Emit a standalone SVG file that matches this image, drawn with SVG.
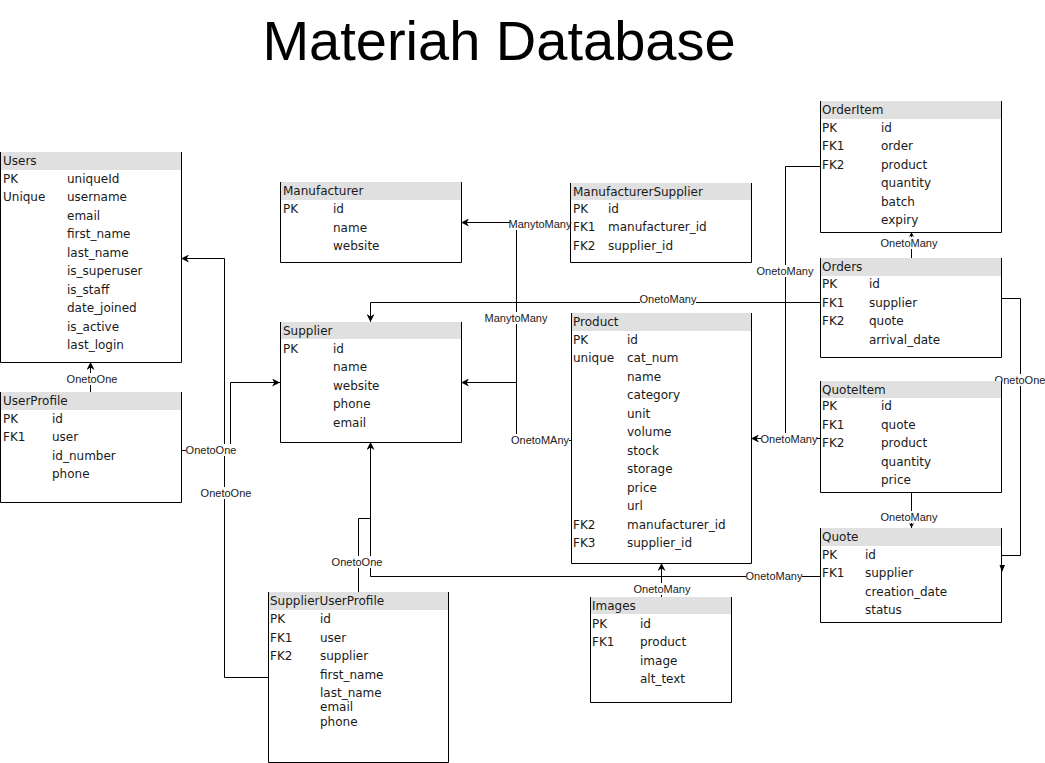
<svg xmlns="http://www.w3.org/2000/svg" width="1045" height="763" viewBox="0 0 1045 763">
<style>
.hd{fill:#e0e0e0;stroke:none}
.bx{fill:none;stroke:#000;stroke-width:1}
.t{font-family:"DejaVu Sans",Verdana,sans-serif;font-size:12px;fill:#1a1a1a}
.c{fill:none;stroke:#000;stroke-width:1}
.lb{font-family:"Liberation Sans",Arial,sans-serif;font-size:11px;fill:#1a1a1a;text-anchor:middle}
.lbg{fill:#fff;stroke:none}
.title{font-family:"Liberation Sans",Arial,sans-serif;font-size:56px;fill:#000;text-anchor:middle}
</style>
<defs>
<marker id="ar" viewBox="0 0 10 10" refX="10" refY="5" markerWidth="8" markerHeight="8" markerUnits="userSpaceOnUse" orient="auto">
<path d="M0,0 L10,5 L0,10 L3,5 z" fill="#000"/>
</marker>
<marker id="sm" viewBox="0 0 10 10" refX="10" refY="5" markerWidth="5" markerHeight="5" markerUnits="userSpaceOnUse" orient="auto">
<path d="M0,0 L10,5 L0,10 L3,5 z" fill="#000"/>
</marker>
</defs>
<rect width="1045" height="763" fill="#fff"/>
<text class="title" x="499" y="60">Materiah Database</text>

<g id="connectors">
<path class="c" d="M90.5,393 V362" marker-end="url(#ar)"/>
<path class="c" d="M181,450.5 H230.5 V382.5 H280" marker-end="url(#ar)"/>
<path class="c" d="M268,677.5 H224.5 V258.5 H181" marker-end="url(#ar)"/>
<path class="c" d="M358.5,592 V518.5 H370.5 V442" marker-end="url(#ar)"/>
<path class="c" d="M820,576.5 H370.5 V518"/>
<path class="c" d="M661.5,597 V563" marker-end="url(#ar)"/>
<path class="c" d="M820,302.5 H370.5 V322" marker-end="url(#ar)"/>
<path class="c" d="M570,222.5 H461" marker-end="url(#ar)"/>
<path class="c" d="M516.5,222.5 V440.5 H571"/>
<path class="c" d="M516.5,382.5 H461" marker-end="url(#ar)"/>
<path class="c" d="M820,166.5 H785.5 V438.5 H751" marker-end="url(#ar)"/>
<path class="c" d="M820,438.5 H751"/>
<path class="c" d="M911.5,258 V232" marker-end="url(#sm)"/>
<path class="c" d="M911.5,492 V528" marker-end="url(#sm)"/>
<path class="c" d="M1001,298.5 H1020.5 V555.5 H1001"/>
<path d="M999.5,565 L1005,565 L1002,572 z" fill="#000"/>
<g>
<rect class="lbg" x="67" y="373" width="50" height="12"/><text class="lb" x="92" y="383">OnetoOne</text>
<rect class="lbg" x="186" y="444" width="50" height="12"/><text class="lb" x="211" y="454">OnetoOne</text>
<rect class="lbg" x="201" y="487" width="50" height="12"/><text class="lb" x="226" y="497">OnetoOne</text>
<rect class="lbg" x="332" y="556" width="50" height="12"/><text class="lb" x="357" y="566">OnetoOne</text>
<rect class="lbg" x="746" y="570" width="56" height="12"/><text class="lb" x="774" y="580">OnetoMany</text>
<rect class="lbg" x="634" y="583" width="56" height="12"/><text class="lb" x="662" y="593">OnetoMany</text>
<rect class="lbg" x="640" y="293" width="56" height="12"/><text class="lb" x="668" y="303">OnetoMany</text>
<rect class="lbg" x="510" y="218" width="61" height="12"/><text class="lb" x="540" y="228">ManytoMany</text>
<rect class="lbg" x="485" y="312" width="62" height="12"/><text class="lb" x="516" y="322">ManytoMany</text>
<rect class="lbg" x="511" y="434" width="58" height="12"/><text class="lb" x="540" y="444">OnetoMAny</text>
<rect class="lbg" x="757" y="265" width="56" height="12"/><text class="lb" x="785" y="275">OnetoMany</text>
<rect class="lbg" x="761" y="433" width="56" height="12"/><text class="lb" x="789" y="443">OnetoMany</text>
<rect class="lbg" x="881" y="237" width="56" height="12"/><text class="lb" x="909" y="247">OnetoMany</text>
<rect class="lbg" x="881" y="511" width="56" height="12"/><text class="lb" x="909" y="521">OnetoMany</text>
<rect class="lbg" x="995" y="374" width="50" height="12"/><text class="lb" x="1020" y="384">OnetoOne</text>
</g>
</g>

<g id="users">
<rect class="hd" x="0" y="152" width="181" height="18"/>
<path class="bx" d="M0.5,152 V362.5 H181.5 V152"/>
<text class="t" x="3" y="165">Users</text>
<text class="t" x="3" y="182.5">PK</text><text class="t" x="67" y="182.5">uniqueId</text>
<text class="t" x="3" y="201">Unique</text><text class="t" x="67" y="201">username</text>
<text class="t" x="67" y="219.5">email</text>
<text class="t" x="67" y="238">first_name</text>
<text class="t" x="67" y="256.5">last_name</text>
<text class="t" x="67" y="275">is_superuser</text>
<text class="t" x="67" y="293.5">is_staff</text>
<text class="t" x="67" y="312">date_joined</text>
<text class="t" x="67" y="330.5">is_active</text>
<text class="t" x="67" y="349">last_login</text>
</g>

<g id="userprofile">
<rect class="hd" x="0" y="392" width="181" height="18"/>
<path class="bx" d="M0.5,392 V502.5 H181.5 V392"/>
<text class="t" x="3" y="405">UserProfile</text>
<text class="t" x="3" y="422.5">PK</text><text class="t" x="52" y="422.5">id</text>
<text class="t" x="3" y="441">FK1</text><text class="t" x="52" y="441">user</text>
<text class="t" x="52" y="459.5">id_number</text>
<text class="t" x="52" y="478">phone</text>
</g>

<g id="manufacturer">
<rect class="hd" x="280" y="182" width="181" height="18"/>
<path class="bx" d="M280.5,182 V262.5 H461.5 V182"/>
<text class="t" x="283" y="195">Manufacturer</text>
<text class="t" x="283" y="213">PK</text><text class="t" x="333" y="213">id</text>
<text class="t" x="333" y="231.5">name</text>
<text class="t" x="333" y="250">website</text>
</g>

<g id="supplier">
<rect class="hd" x="280" y="322" width="181" height="17"/>
<path class="bx" d="M280.5,322 V442.5 H461.5 V322"/>
<text class="t" x="283" y="335">Supplier</text>
<text class="t" x="283" y="352.5">PK</text><text class="t" x="333" y="352.5">id</text>
<text class="t" x="333" y="371">name</text>
<text class="t" x="333" y="389.5">website</text>
<text class="t" x="333" y="408">phone</text>
<text class="t" x="333" y="426.5">email</text>
</g>

<g id="manufacturersupplier">
<rect class="hd" x="570" y="183" width="181" height="17"/>
<path class="bx" d="M570.5,183 V262.5 H751.5 V183"/>
<text class="t" x="573" y="196">ManufacturerSupplier</text>
<text class="t" x="573" y="212.5">PK</text><text class="t" x="608" y="212.5">id</text>
<text class="t" x="573" y="231">FK1</text><text class="t" x="608" y="231">manufacturer_id</text>
<text class="t" x="573" y="249.5">FK2</text><text class="t" x="608" y="249.5">supplier_id</text>
</g>

<g id="product">
<rect class="hd" x="571" y="313" width="180" height="18"/>
<path class="bx" d="M571.5,313 V563.5 H751.5 V313"/>
<text class="t" x="573" y="326">Product</text>
<text class="t" x="573" y="343.5">PK</text><text class="t" x="627" y="343.5">id</text>
<text class="t" x="573" y="362">unique</text><text class="t" x="627" y="362">cat_num</text>
<text class="t" x="627" y="380.5">name</text>
<text class="t" x="627" y="399">category</text>
<text class="t" x="627" y="417.5">unit</text>
<text class="t" x="627" y="436">volume</text>
<text class="t" x="627" y="454.5">stock</text>
<text class="t" x="627" y="473">storage</text>
<text class="t" x="627" y="491.5">price</text>
<text class="t" x="627" y="510">url</text>
<text class="t" x="573" y="528.5">FK2</text><text class="t" x="627" y="528.5">manufacturer_id</text>
<text class="t" x="573" y="547">FK3</text><text class="t" x="627" y="547">supplier_id</text>
</g>

<g id="orderitem">
<rect class="hd" x="820" y="101" width="181" height="18"/>
<path class="bx" d="M820.5,101 V232.5 H1001.5 V101"/>
<text class="t" x="822" y="114">OrderItem</text>
<text class="t" x="822" y="131.5">PK</text><text class="t" x="881" y="131.5">id</text>
<text class="t" x="822" y="150">FK1</text><text class="t" x="881" y="150">order</text>
<text class="t" x="822" y="168.5">FK2</text><text class="t" x="881" y="168.5">product</text>
<text class="t" x="881" y="187">quantity</text>
<text class="t" x="881" y="205.5">batch</text>
<text class="t" x="881" y="224">expiry</text>
</g>

<g id="orders">
<rect class="hd" x="820" y="258" width="181" height="18"/>
<path class="bx" d="M820.5,258 V357.5 H1001.5 V258"/>
<text class="t" x="822" y="271">Orders</text>
<text class="t" x="822" y="288">PK</text><text class="t" x="869" y="288">id</text>
<text class="t" x="822" y="306.5">FK1</text><text class="t" x="869" y="306.5">supplier</text>
<text class="t" x="822" y="325">FK2</text><text class="t" x="869" y="325">quote</text>
<text class="t" x="869" y="344">arrival_date</text>
</g>

<g id="quoteitem">
<rect class="hd" x="820" y="381" width="181" height="17"/>
<path class="bx" d="M820.5,381 V492.5 H1001.5 V381"/>
<text class="t" x="822" y="394">QuoteItem</text>
<text class="t" x="822" y="410">PK</text><text class="t" x="881" y="410">id</text>
<text class="t" x="822" y="428.5">FK1</text><text class="t" x="881" y="428.5">quote</text>
<text class="t" x="822" y="447">FK2</text><text class="t" x="881" y="447">product</text>
<text class="t" x="881" y="465.5">quantity</text>
<text class="t" x="881" y="484">price</text>
</g>

<g id="quote">
<rect class="hd" x="820" y="528" width="181" height="18"/>
<path class="bx" d="M820.5,528 V622.5 H1001.5 V528"/>
<text class="t" x="822" y="541">Quote</text>
<text class="t" x="822" y="558.5">PK</text><text class="t" x="865" y="558.5">id</text>
<text class="t" x="822" y="577">FK1</text><text class="t" x="865" y="577">supplier</text>
<text class="t" x="865" y="595.5">creation_date</text>
<text class="t" x="865" y="614">status</text>
</g>

<g id="supplieruserprofile">
<rect class="hd" x="268" y="592" width="180" height="18"/>
<path class="bx" d="M268.5,592 V762.5 H448.5 V592"/>
<text class="t" x="270" y="605">SupplierUserProfile</text>
<text class="t" x="270" y="623">PK</text><text class="t" x="320" y="623">id</text>
<text class="t" x="270" y="641.5">FK1</text><text class="t" x="320" y="641.5">user</text>
<text class="t" x="270" y="660">FK2</text><text class="t" x="320" y="660">supplier</text>
<text class="t" x="320" y="678.5">first_name</text>
<text class="t" x="320" y="696.5">last_name</text>
<text class="t" x="320" y="710.5">email</text>
<text class="t" x="320" y="725.5">phone</text>
</g>

<g id="images">
<rect class="hd" x="590" y="597" width="141" height="17"/>
<path class="bx" d="M590.5,597 V702.5 H731.5 V597"/>
<text class="t" x="592" y="610">Images</text>
<text class="t" x="592" y="627.5">PK</text><text class="t" x="640" y="627.5">id</text>
<text class="t" x="592" y="646">FK1</text><text class="t" x="640" y="646">product</text>
<text class="t" x="640" y="664.5">image</text>
<text class="t" x="640" y="683">alt_text</text>
</g>
</svg>
